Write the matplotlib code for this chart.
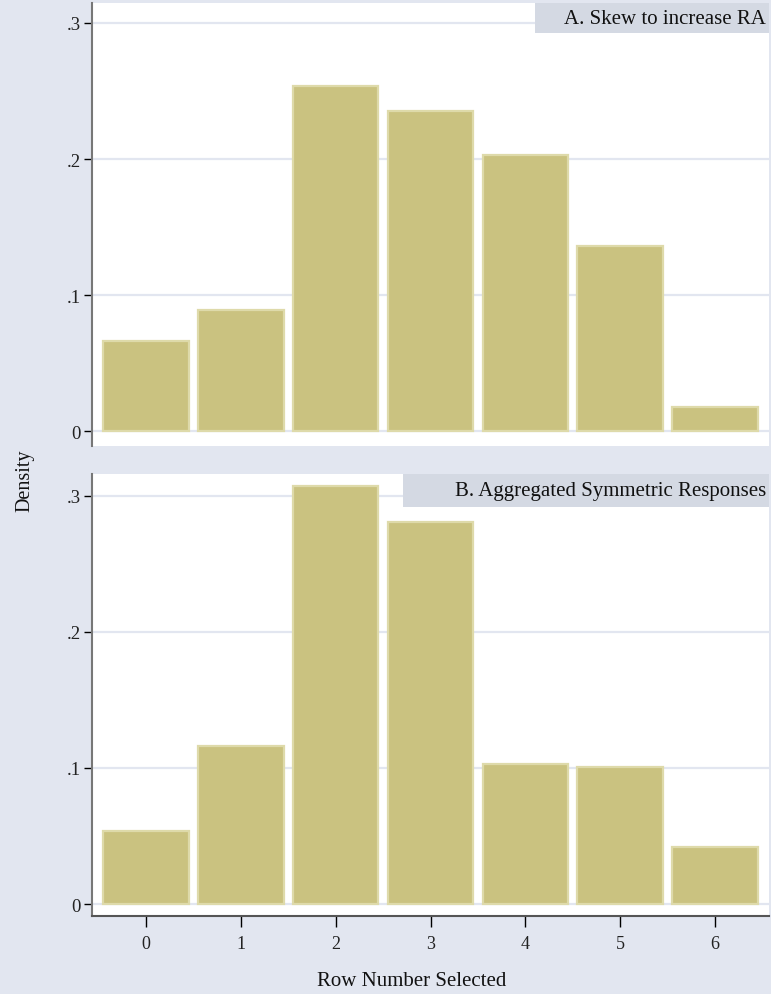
import matplotlib
matplotlib.use("Agg")
import matplotlib.pyplot as plt
from matplotlib.ticker import FixedLocator

plt.rcParams['font.family'] = ['Liberation Serif', 'DejaVu Serif']

# histogram densities by row number
rows = [0, 1, 2, 3, 4, 5, 6]
density_a = [0.066, 0.089, 0.254, 0.235, 0.203, 0.136, 0.018]
density_b = [0.054, 0.116, 0.307, 0.281, 0.103, 0.101, 0.042]
panel_titles = ["A. Skew to increase RA", "B. Aggregated Symmetric Responses"]
ytick_vals = [0, 0.1, 0.2, 0.3]
ytick_labels = ["0", ".1", ".2", ".3"]

BG = '#E2E6F0'
LABEL_BG = '#D4D9E3'
BAR_FILL = '#CAC280'
BAR_EDGE = '#DEDAAA'
GRID = '#E2E6F0'

W, H = 771, 995
fig = plt.figure(figsize=(W / 100, H / 100), dpi=100)
fig.patch.set_facecolor(BG)


def px_axes(x0, y0, x1, y1):
    # pixel box (top-left origin) -> figure fraction
    return fig.add_axes([x0 / W, 1 - y1 / H, (x1 - x0) / W, (y1 - y0) / H])


def panel(ax, vals, title, label_x0, box_h, ylim, show_x):
    ax.set_facecolor('white')
    ax.bar(rows, vals, width=0.9, color=BAR_FILL, edgecolor=BAR_EDGE,
           linewidth=1.6, zorder=3)
    ax.set_xlim(-0.57, 6.57)
    ax.set_ylim(*ylim)
    ax.yaxis.set_major_locator(FixedLocator(ytick_vals))
    ax.set_yticklabels(ytick_labels)
    ax.grid(axis='y', color=GRID, linewidth=1.6, zorder=1)
    ax.grid(axis='x', visible=False)
    for s in ['top', 'right']:
        ax.spines[s].set_visible(False)
    ax.spines['left'].set_color('#777777')
    ax.spines['left'].set_linewidth(1.5)
    ax.tick_params(axis='y', length=6, width=1, color='black',
                   labelsize=13.5, pad=2, labelcolor='#222222')
    if show_x:
        ax.spines['bottom'].set_color('#555555')
        ax.spines['bottom'].set_linewidth(1.5)
        ax.xaxis.set_major_locator(FixedLocator(rows))
        ax.tick_params(axis='x', length=8, width=1, color='black',
                       labelsize=13, pad=6, labelcolor='#222222')
    else:
        ax.spines['bottom'].set_visible(False)
        ax.set_xticks([])
    # panel label strip in the top-right corner
    ax.text(0.996, 1 - box_h / 2, title, transform=ax.transAxes,
            ha='right', va='center', fontsize=15, color='#111111', zorder=6)
    ax.axvspan(label_x0, 6.57, ymin=1 - box_h, ymax=1,
               color=LABEL_BG, zorder=5, linewidth=0)


ax_a = px_axes(92, 4, 769, 447)
panel(ax_a, density_a, panel_titles[0], 4.10, 30 / 443, (-0.011, 0.3147), False)

ax_b = px_axes(92, 475, 769, 917)
panel(ax_b, density_b, panel_titles[1], 2.71, 33 / 442, (-0.0088, 0.316), True)

fig.text(25 / W, 1 - 481 / H, "Density", rotation=90, ha='center',
         va='center', fontsize=14.5, color='#111111')
fig.text(412 / W, 1 - 982 / H, "Row Number Selected", ha='center',
         va='center', fontsize=15, color='#111111')

fig.savefig("out.png", dpi=100, facecolor=BG)
